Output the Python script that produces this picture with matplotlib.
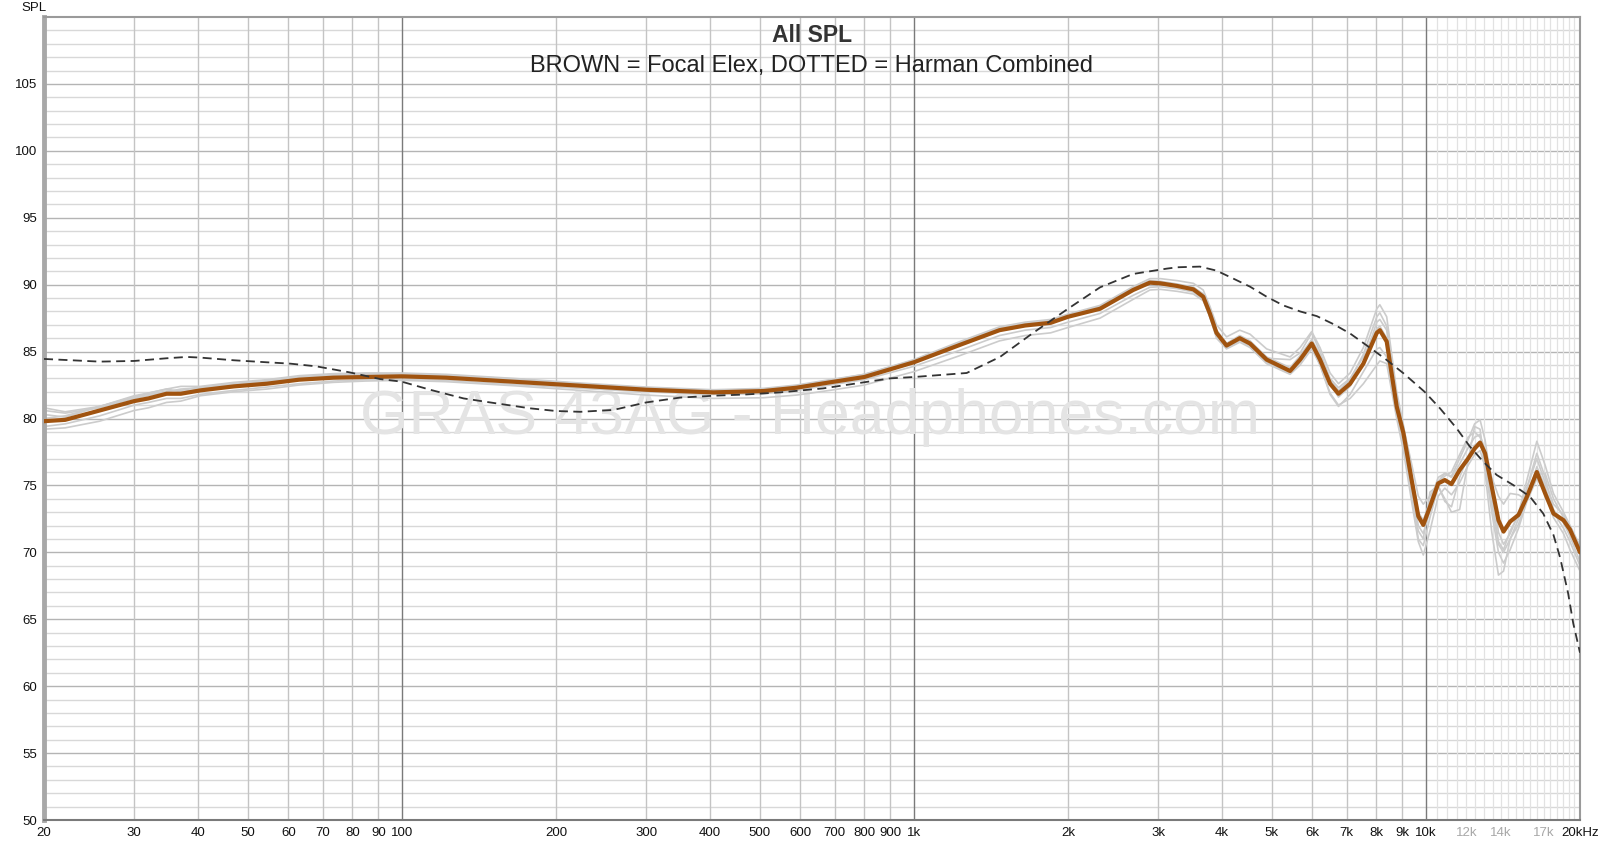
import matplotlib
matplotlib.use("Agg")
import matplotlib.pyplot as plt

plt.rcParams['font.family'] = ['Liberation Sans', 'DejaVu Sans']

# ================== data ==================
freq = [20, 22, 25.7, 30, 32, 34.7, 37, 40.4, 47, 54.5,
        63, 73.5, 85, 100, 122, 165, 223, 300, 406, 508,
        590, 685, 800, 1000, 1230, 1470, 1650, 1850, 2000, 2310,
        2680, 2890, 3030, 3270, 3515, 3674, 3785, 3900, 4080, 4330,
        4535, 4886, 5430, 5680, 5985, 6212, 6500, 6750, 7113, 7550,
        8020, 8130, 8385, 8770, 9040, 9380, 9665, 9885, 10185, 10570,
        10890, 11220, 11640, 12090, 12450, 12760, 13050, 13450, 13860, 14180,
        14610, 15170, 15750, 16470, 17100, 17750, 18570, 19120, 20000]

# average (brown)
focal_elex = [79.8, 79.9, 80.6, 81.3, 81.5, 81.85, 81.85, 82.1, 82.4, 82.6,
              82.9, 83.05, 83.1, 83.15, 83.05, 82.75, 82.45, 82.15, 81.95, 82.05,
              82.3, 82.7, 83.1, 84.2, 85.5, 86.6, 86.95, 87.15, 87.6, 88.2,
              89.6, 90.15, 90.1, 89.9, 89.65, 89.1, 87.85, 86.4, 85.45, 86.0,
              85.6, 84.4, 83.55, 84.4, 85.6, 84.4, 82.6, 81.85, 82.6, 84.1,
              86.4, 86.6, 85.75, 80.9, 78.9, 75.4, 72.7, 72.05, 73.4, 75.15,
              75.4, 75.1, 76.15, 77.0, 77.75, 78.2, 77.4, 74.9, 72.4, 71.55,
              72.3, 72.8, 74.15, 76.0, 74.4, 72.9, 72.4, 71.7, 70.0]

# individual measurements (grey)
meas_1 = [80.8, 80.5, 80.9, 81.7, 81.9, 82.2, 82.4, 82.4, 82.7, 82.9,
          83.2, 83.35, 83.4, 83.4, 83.3, 83.0, 82.65, 82.35, 82.15, 82.25,
          82.5, 82.9, 83.3, 84.4, 85.75, 86.85, 87.2, 87.4, 87.8, 88.45,
          89.85, 90.45, 90.45, 90.3, 90.1, 89.6, 88.4, 87.0, 86.1, 86.6,
          86.3, 85.2, 84.6, 85.3, 86.5, 85.3, 83.4, 82.6, 83.4, 85.3,
          88.2, 88.5, 87.6, 82.0, 79.5, 75.8, 73.0, 72.4, 73.8, 75.6,
          75.9, 75.7, 77.0, 78.4, 79.6, 79.9, 78.4, 75.0, 71.5, 70.6,
          71.4, 72.9, 75.4, 78.3, 76.5, 74.4, 73.0, 72.0, 70.3]
meas_2 = [79.2, 79.3, 79.8, 80.6, 80.8, 81.2, 81.3, 81.7, 82.0, 82.2,
          82.5, 82.7, 82.8, 82.85, 82.75, 82.45, 82.1, 81.75, 81.5, 81.55,
          81.75, 82.1, 82.5, 83.5, 84.7, 85.8, 86.2, 86.4, 86.8, 87.5,
          88.9, 89.6, 89.65, 89.5, 89.3, 88.8, 87.6, 86.0, 85.2, 85.7,
          85.3, 84.1, 83.3, 84.0, 85.2, 84.0, 81.9, 81.0, 81.5, 82.6,
          84.0, 84.3, 84.1, 80.0, 77.6, 73.8, 70.8, 69.8, 71.6, 74.2,
          74.8, 74.3, 75.2, 76.5, 77.3, 77.6, 76.4, 73.0, 70.0, 69.2,
          70.2, 71.8, 73.8, 75.5, 74.5, 72.6, 71.4, 70.2, 68.6]
meas_3 = [80.3, 80.1, 80.9, 81.6, 81.9, 82.2, 82.0, 82.2, 82.5, 82.75,
          83.0, 83.2, 83.25, 83.3, 83.2, 82.9, 82.55, 82.3, 82.05, 82.15,
          82.4, 82.8, 83.2, 84.3, 85.6, 86.7, 87.05, 87.3, 87.7, 88.3,
          89.7, 90.3, 90.2, 90.0, 89.8, 89.3, 88.0, 86.6, 85.6, 86.2,
          85.8, 84.6, 83.8, 84.7, 85.9, 84.8, 82.9, 82.1, 82.9, 84.8,
          87.6, 87.9, 86.9, 81.5, 78.6, 74.2, 71.0, 70.5, 72.6, 74.9,
          74.0, 73.0, 73.2, 76.8, 79.4, 79.2, 76.0, 71.5, 68.3, 68.6,
          71.0, 72.5, 74.8, 77.4, 75.6, 73.2, 72.2, 71.2, 69.3]
meas_4 = [80.0, 80.2, 80.9, 81.6, 81.8, 82.05, 82.1, 82.35, 82.6, 82.85,
          83.1, 83.3, 83.35, 83.35, 83.25, 82.95, 82.6, 82.3, 82.1, 82.2,
          82.45, 82.85, 83.3, 84.35, 85.65, 86.75, 87.1, 87.3, 87.75, 88.35,
          89.75, 90.3, 90.25, 90.05, 89.8, 89.3, 88.1, 86.6, 85.6, 86.15,
          85.75, 84.5, 83.6, 84.5, 85.8, 84.6, 82.6, 81.6, 82.4, 84.2,
          87.2, 87.4, 86.6, 81.2, 78.9, 75.0, 72.0, 71.4, 73.1, 75.3,
          75.9, 75.6, 76.6, 77.8, 78.6, 78.8, 77.6, 74.2, 70.8, 70.2,
          71.6, 72.8, 74.8, 77.0, 75.2, 73.6, 72.8, 71.9, 69.8]
meas_5 = [79.4, 79.6, 80.2, 81.0, 81.2, 81.5, 81.5, 81.8, 82.1, 82.35,
          82.6, 82.8, 82.9, 82.95, 82.85, 82.55, 82.25, 82.0, 81.8, 81.85,
          82.1, 82.5, 82.9, 83.9, 85.1, 86.2, 86.6, 86.8, 87.2, 87.85,
          89.2, 89.8, 89.85, 89.7, 89.45, 88.9, 87.6, 86.2, 85.3, 85.8,
          85.4, 84.2, 83.4, 84.2, 85.4, 84.0, 81.8, 80.9, 81.8, 83.5,
          85.2, 85.3, 84.6, 80.4, 78.0, 74.4, 71.6, 71.0, 74.5, 75.0,
          73.8, 73.4, 75.6, 77.2, 78.0, 78.3, 76.8, 73.6, 70.6, 70.0,
          71.0, 72.1, 74.0, 76.4, 74.9, 73.0, 71.8, 70.8, 69.0]
meas_6 = [80.6, 80.4, 80.8, 81.5, 81.7, 82.0, 82.2, 82.3, 82.55, 82.8,
          83.05, 83.2, 83.3, 83.3, 83.2, 82.85, 82.5, 82.25, 82.05, 82.1,
          82.35, 82.75, 83.2, 84.25, 85.55, 86.65, 87.0, 87.2, 87.65, 88.3,
          89.65, 90.2, 90.2, 90.0, 89.7, 89.2, 88.0, 86.5, 85.5, 86.1,
          85.7, 84.5, 84.4, 84.9, 86.4, 85.0, 83.0, 82.3, 83.0, 84.6,
          86.7, 86.9, 86.0, 81.4, 79.4, 76.6, 74.2, 73.6, 74.2, 75.2,
          75.7, 76.0, 77.3, 78.6, 79.0, 78.6, 77.6, 75.6, 74.2, 73.6,
          74.4, 74.3, 73.9, 75.8, 75.9, 74.0, 72.6, 72.0, 70.5]

# Harman Combined target (dotted)
harman_freq = [20, 25.7, 30, 34.7, 38, 40.4, 47, 54.5, 60.5, 68,
               79, 90.6, 100, 113.5, 132, 153, 178, 200, 223, 259,
               300, 349, 406, 472, 548, 665, 900, 1000, 1268, 1473,
               1710, 2000, 2310, 2680, 2891, 3120, 3271, 3620, 3900, 4208,
               4535, 4886, 5267, 5680, 6124, 6600, 7113, 7670, 8130, 8385,
               9040, 9940, 10660, 11480, 12190, 12950, 13750, 14810, 15970, 16950,
               17750, 18290, 18960, 19400, 20000]
harman = [84.45, 84.25, 84.3, 84.5, 84.6, 84.55, 84.35, 84.2, 84.1, 83.9,
          83.45, 82.95, 82.75, 82.15, 81.5, 81.13, 80.76, 80.56, 80.5, 80.64,
          81.2, 81.56, 81.7, 81.8, 81.95, 82.25, 83.0, 83.1, 83.4, 84.6,
          86.4, 88.2, 89.8, 90.8, 91.0, 91.2, 91.3, 91.35, 91.05, 90.45,
          89.85, 89.1, 88.45, 88.0, 87.65, 87.05, 86.35, 85.45, 84.75, 84.37,
          83.38, 82.0, 80.75, 79.27, 77.9, 76.77, 75.78, 75.03, 74.16, 72.9,
          71.3, 69.6, 66.94, 64.7, 62.5]

xticks = [20, 30, 40, 50, 60, 70, 80, 90, 100, 200, 300, 400, 500, 600, 700, 800, 900,
          1000, 2000, 3000, 4000, 5000, 6000, 7000, 8000, 9000, 10000, 12000, 14000, 17000, 20000]
xlabels = ['20', '30', '40', '50', '60', '70', '80', '90', '100', '200', '300', '400', '500',
           '600', '700', '800', '900', '1k', '2k', '3k', '4k', '5k', '6k', '7k', '8k', '9k',
           '10k', '12k', '14k', '17k', '20kHz']
faded_labels = ['12k', '14k', '17k']
yticks = [50, 55, 60, 65, 70, 75, 80, 85, 90, 95, 100, 105]
# ==========================================

fig = plt.figure(figsize=(16, 8.44), dpi=100)
ax = fig.add_axes([44 / 1600, 1 - 820 / 844, 1536 / 1600, 803 / 844])
ax.set_xscale('log')
ax.set_xlim(20, 20000)
ax.set_ylim(50, 110)

# grid
for y in range(51, 110):
    major = (y % 5 == 0)
    ax.axhline(y, color='#b4b4b4' if major else '#d8d8d8', lw=1.0, zorder=0)
vlines = list(range(20, 100, 10)) + list(range(200, 1000, 100)) + list(range(2000, 10000, 1000))
for v in vlines:
    ax.axvline(v, color='#c4c4c4', lw=1.0, zorder=0)
for v in range(10500, 20000, 500):
    ax.axvline(v, color='#e2e2e2', lw=0.9, zorder=0)
for v in [100, 1000, 10000]:
    ax.axvline(v, color='#7a7a7a', lw=1.0, zorder=0)

# watermark
ax.text(0.4987, 0.501, 'GRAS 43AG - Headphones.com', transform=ax.transAxes,
        ha='center', va='center', fontsize=45, color='#e4e4e4', zorder=1)

for m in [meas_1, meas_2, meas_3, meas_4, meas_5, meas_6]:
    ax.plot(freq, m, color='#cccccc', lw=1.2, zorder=2)
ax.plot(freq, focal_elex, color='#a0530f', lw=3.0, zorder=3, solid_capstyle='round')
ax.plot(harman_freq, harman, color='#333333', lw=1.3, dashes=(5, 3), zorder=4)

ax.set_xticks(xticks)
ax.set_xticklabels(xlabels)
ax.minorticks_off()
ax.set_yticks(yticks)
ax.tick_params(length=0, labelsize=9.5, pad=5, colors='#111111')
for t in ax.get_xticklabels():
    if t.get_text() in faded_labels:
        t.set_color('#a8a8a8')

for s in ['top', 'right', 'bottom']:
    ax.spines[s].set_color('#9a9a9a')
    ax.spines[s].set_linewidth(1.5)
ax.spines['left'].set_color('#a8a8a8')
ax.spines['left'].set_linewidth(3.5)
ax.spines['bottom'].set_color('#7a7a7a')

ax.text(0.5, 0.977, 'All SPL', transform=ax.transAxes, ha='center', va='center',
        fontsize=16.5, fontweight='bold', color='#333333', zorder=5)
ax.text(0.5, 0.939, 'BROWN = Focal Elex, DOTTED = Harman Combined', transform=ax.transAxes,
        ha='center', va='center', fontsize=17, color='#222222', zorder=5)
fig.text(21 / 1600, 1 - 8 / 844, 'SPL', ha='left', va='center', fontsize=9.5, color='#111111')

fig.savefig('out.png', dpi=100)
